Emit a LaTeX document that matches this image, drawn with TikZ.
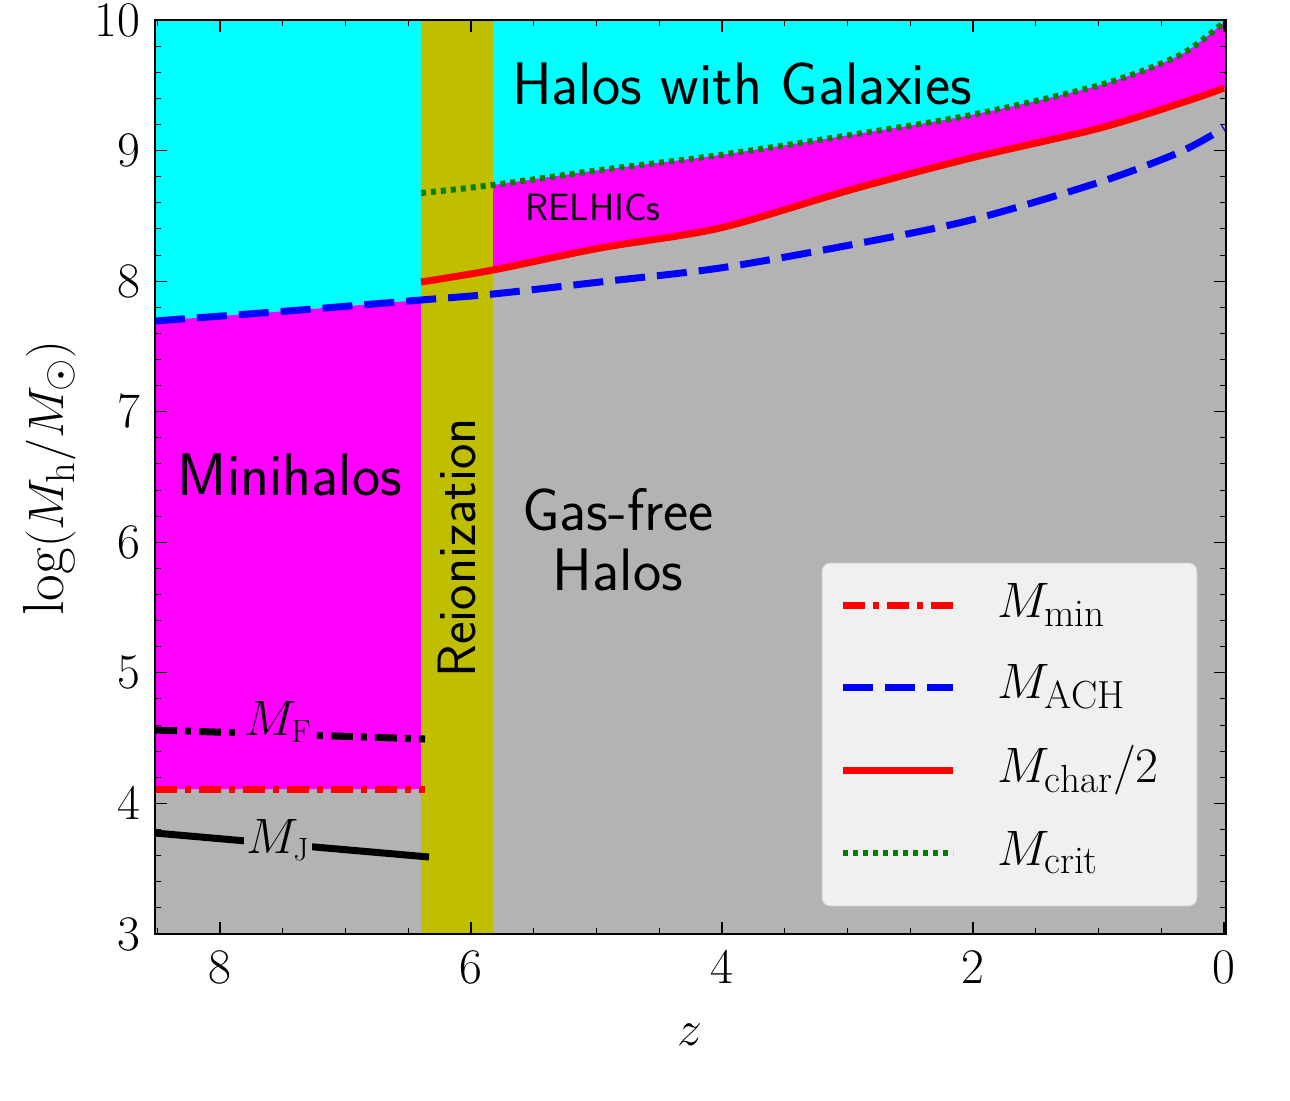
\documentclass[tikz,border=0pt]{standalone}
\usepackage{fontspec}
\usepackage{amsmath}
\begin{document}
\begin{tikzpicture}[x=0.5pt,y=-0.5pt,
  lbl/.style={font=\sffamily\fontsize{30}{30}\selectfont},
  tick/.style={font=\fontsize{25}{28}\selectfont},
  dd/.style={line width=3.5pt,dash pattern=on 11pt off 4pt on 3pt off 4pt},
  dsh/.style={line width=3.5pt,dash pattern=on 15pt off 6pt},
  dot/.style={line width=3pt,dash pattern=on 2.5pt off 2.5pt},
  sol/.style={line width=3.5pt}]
\definecolor{olv}{RGB}{191,191,0}
\definecolor{gr}{RGB}{179,179,179}
\definecolor{cy}{RGB}{0,255,255}
\definecolor{mg}{RGB}{255,0,255}
\useasboundingbox (0,0) rectangle (1290,1100);
% background
\fill[gr] (155,20) rectangle (1226,934);
% left regions
\fill[cy] (155,20) -- (421,20) -- (421,300) -- plot[smooth] coordinates {(421,300)(300,310)(155,321)} -- cycle;
\fill[mg] (155,321) -- plot[smooth] coordinates {(155,321)(300,310)(421,300)} -- (421,789) -- (155,789) -- cycle;
% right regions
\fill[cy] (493,20) -- (1226,20) -- (1226,22) -- plot[smooth] coordinates {(1224,22)(1180,55)(1100,85)(971,115)(850,135)(720,155)(600,170)(493,185)} -- cycle;
\fill[mg] plot[smooth] coordinates {(493,185)(600,170)(720,155)(850,135)(971,115)(1100,85)(1180,55)(1224,22)} -- (1226,22) -- (1226,88) -- plot[smooth] coordinates {(1224,88)(1190,100)(1100,128)(971,158)(850,190)(720,228)(600,248)(493,270)} -- cycle;
% reionization band
\fill[olv] (421,20) rectangle (493,934);
% curves
\begin{scope}
\clip (155,20) rectangle (1226,934);
\draw[dsh,blue] plot[smooth] coordinates {(155,321)(300,310)(421,300)(493,294)(600,282)(720,268)(850,245)(971,220)(1100,182)(1180,152)(1224,128)};
\draw[sol,red] plot[smooth] coordinates {(421,282)(493,270)(600,248)(720,228)(850,190)(971,158)(1100,128)(1190,100)(1224,88)};
\draw[dot,green!50!black] plot[smooth] coordinates {(421,193)(493,185)(600,170)(720,155)(850,135)(971,115)(1100,85)(1180,55)(1224,22)};
\draw[dd,black] (155,730) -- (425,739);
\draw[dd,red] (155,789) -- (425,789);
\draw[sol,black] (155,833) -- (429,857);
\end{scope}
\node[font=\fontsize{23}{26}\selectfont, fill=mg, inner sep=1pt] at (278,722) {$M_{\mathrm{F}}$};
\node[font=\fontsize{23}{26}\selectfont, fill=gr, inner sep=1pt] at (278,840) {$M_{\mathrm{J}}$};
% text
\node[lbl] at (742,84) {Halos with Galaxies};
\node[font=\sffamily\fontsize{19}{22}\selectfont] at (593,207) {RELHICs};
\node[lbl] at (290,475) {Minihalos};
\node[lbl,align=center] at (618,540) {Gas-free\\Halos};
\node[font=\sffamily\fontsize{27}{30}\selectfont,rotate=90] at (457,548) {Reionization};
% frame and ticks
\draw[line width=0.8pt] (155,20) rectangle (1226,934);
\foreach \z in {0,2,...,8}{
  \pgfmathsetmacro\px{1224-125.5*\z}
  \draw[line width=0.6pt] (\px,934) -- (\px,922) (\px,20) -- (\px,32);
  \node[tick,anchor=north] at (\px,944) {$\z$};}
\foreach \z in {0.5,1,...,8.5}{
  \pgfmathsetmacro\px{1224-125.5*\z}
  \draw[line width=0.5pt] (\px,934) -- (\px,928) (\px,20) -- (\px,26);}
\foreach \m in {3,...,10}{
  \pgfmathsetmacro\py{934-130.57*(\m-3)}
  \draw[line width=0.6pt] (155,\py) -- (167,\py) (1226,\py) -- (1214,\py);
  \node[tick,anchor=east] at (147,\py) {$\m$};}
\foreach \m in {3.2,3.4,...,9.9}{
  \pgfmathsetmacro\py{934-130.57*(\m-3)}
  \draw[line width=0.5pt] (155,\py) -- (161,\py) (1226,\py) -- (1220,\py);}
\node[font=\fontsize{32}{34}\selectfont] at (690,1035) {$z$};
\node[font=\fontsize{29}{32}\selectfont,rotate=90] at (50,478) {$\log(M_{\mathrm{h}}/M_{\odot})$};
% legend
\draw[rounded corners=4pt, fill=white!94!black, draw=white!80!black] (822,563) rectangle (1197,906);
\draw[dd,red] (843,605) -- (953,605);
\draw[dsh,blue] (843,687) -- (953,687);
\draw[sol,red] (843,770) -- (953,770);
\draw[dot,green!50!black] (843,853) -- (953,853);
\begin{scope}[every node/.style={anchor=west,font=\fontsize{28}{31}\selectfont}]
\node at (990,605) {$M_{\mathrm{min}}$};
\node at (990,687) {$M_{\mathrm{ACH}}$};
\node at (990,770) {$M_{\mathrm{char}}/2$};
\node at (990,853) {$M_{\mathrm{crit}}$};
\end{scope}
\end{tikzpicture}
\end{document}
